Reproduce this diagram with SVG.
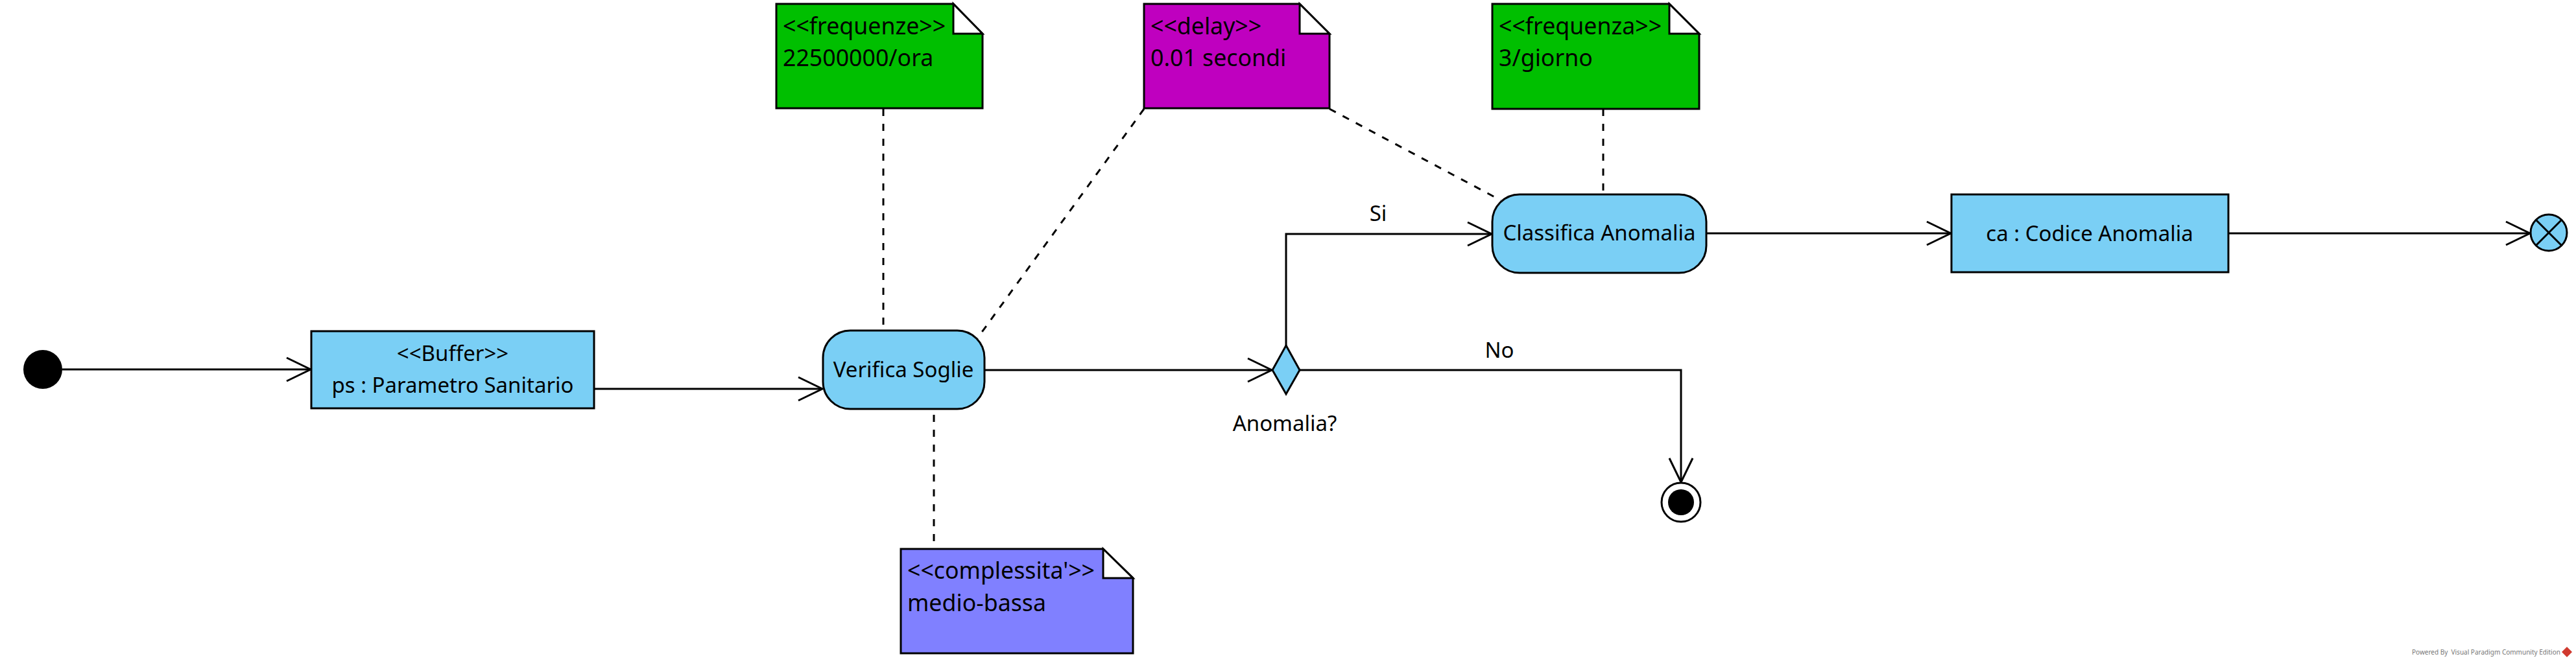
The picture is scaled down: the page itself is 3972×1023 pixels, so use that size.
<svg xmlns="http://www.w3.org/2000/svg" width="3972" height="1023" viewBox="0 0 3972 1023">
<style>
.nodebox{fill:#7ACFF5;stroke:#000;stroke-width:3}
.t{font-family:"Noto Sans","Open Sans","DejaVu Sans",sans-serif;font-size:33px;fill:#000}
.tc{text-anchor:middle}
.nt{font-family:"Noto Sans","Open Sans","DejaVu Sans",sans-serif;font-size:35.7px;fill:#000}
.edge{fill:none;stroke:#000;stroke-width:3}
.dash{fill:none;stroke:#000;stroke-width:3;stroke-dasharray:11 12}
.note{stroke:#000;stroke-width:3;stroke-linejoin:miter}
.fold{fill:#fff;stroke:#000;stroke-width:3}
.wm{font-family:"Noto Sans","Open Sans",sans-serif;font-size:10px;fill:#777;white-space:pre}
</style>
<defs>
<marker id="arr" markerUnits="userSpaceOnUse" viewBox="-40 -22 44 44" refX="0" refY="0" markerWidth="44" markerHeight="44" orient="auto">
<path d="M-37,-18 L0,0 L-37,18" fill="none" stroke="#000" stroke-width="3"/>
</marker>
</defs>
<rect width="3972" height="1023" fill="#fff"/>

<g id="connectors">
<line class="edge" x1="96" y1="570" x2="479" y2="570" marker-end="url(#arr)"/>
<line class="edge" x1="916" y1="600" x2="1268" y2="600" marker-end="url(#arr)"/>
<line class="edge" x1="1518" y1="571" x2="1961" y2="571" marker-end="url(#arr)"/>
<polyline class="edge" points="1983,533 1983,361 2300,361" marker-end="url(#arr)"/>
<polyline class="edge" points="2004,571 2592,571 2592,744" marker-end="url(#arr)"/>
<line class="edge" x1="2631" y1="360" x2="3008" y2="360" marker-end="url(#arr)"/>
<line class="edge" x1="3436" y1="360" x2="3901" y2="360" marker-end="url(#arr)"/>
<line class="dash" x1="1362" y1="168" x2="1362" y2="508"/>
<line class="dash" x1="1764" y1="168" x2="1507" y2="522"/>
<line class="dash" x1="2050" y1="168" x2="2314" y2="309"/>
<line class="dash" x1="2472" y1="168" x2="2472" y2="300"/>
<line class="dash" x1="1440" y1="640" x2="1440" y2="846"/>
<text class="t tc" x="2125" y="341">Si</text>
<text class="t tc" x="2312" y="552">No</text>
</g>

<g id="start">
<circle cx="66" cy="570" r="30" fill="#000"/>
</g>

<g id="buffer">
<rect class="nodebox" x="480" y="511" width="436" height="119"/>
<text class="t tc" x="698" y="557">&lt;&lt;Buffer&gt;&gt;</text>
<text class="t tc" x="698" y="606">ps : Parametro Sanitario</text>
</g>

<g id="verifica">
<rect class="nodebox" x="1269" y="510" width="249" height="121" rx="42" ry="42"/>
<text class="t tc" x="1393" y="582">Verifica Soglie</text>
</g>

<g id="decision">
<polygon class="nodebox" points="1983,533 2004,571 1983,608 1962,571"/>
<text class="t tc" x="1981" y="665">Anomalia?</text>
</g>

<g id="final">
<circle cx="2592" cy="775" r="30" fill="#fff" stroke="#000" stroke-width="3"/>
<circle cx="2592" cy="775" r="20" fill="#000"/>
</g>

<g id="classifica">
<rect class="nodebox" x="2301" y="300" width="330" height="121" rx="42" ry="42"/>
<text class="t tc" x="2466" y="371">Classifica Anomalia</text>
</g>

<g id="codice">
<rect class="nodebox" x="3009" y="300" width="427" height="120"/>
<text class="t tc" x="3222" y="372">ca : Codice Anomalia</text>
</g>

<g id="flowfinal">
<circle class="nodebox" cx="3930" cy="359" r="28"/>
<line x1="3910" y1="339" x2="3950" y2="379" stroke="#000" stroke-width="3"/>
<line x1="3950" y1="339" x2="3910" y2="379" stroke="#000" stroke-width="3"/>
</g>

<g id="note-frequenze">
<polygon class="note" fill="#00BF00" points="1197,6 1470,6 1515,52 1515,167 1197,167"/>
<polygon class="fold" points="1470,6 1470,52 1515,52"/>
<text class="nt" x="1207" y="53">&lt;&lt;frequenze&gt;&gt;</text>
<text class="nt" x="1207" y="102">22500000/ora</text>
</g>

<g id="note-delay">
<polygon class="note" fill="#BF00BF" points="1764,6 2004,6 2050,52 2050,167 1764,167"/>
<polygon class="fold" points="2004,6 2004,52 2050,52"/>
<text class="nt" x="1774" y="53">&lt;&lt;delay&gt;&gt;</text>
<text class="nt" x="1774" y="102">0.01 secondi</text>
</g>

<g id="note-frequenza">
<polygon class="note" fill="#00BF00" points="2301,6 2574,6 2620,52 2620,168 2301,168"/>
<polygon class="fold" points="2574,6 2574,52 2620,52"/>
<text class="nt" x="2311" y="53">&lt;&lt;frequenza&gt;&gt;</text>
<text class="nt" x="2311" y="102">3/giorno</text>
</g>

<g id="note-complessita">
<polygon class="note" fill="#8080FF" points="1389,847 1701,847 1747,892 1747,1008 1389,1008"/>
<polygon class="fold" points="1701,847 1701,892 1747,892"/>
<text class="nt" x="1399" y="893">&lt;&lt;complessita'&gt;&gt;</text>
<text class="nt" x="1399" y="943">medio-bassa</text>
</g>

<g id="watermark">
<text class="wm" x="3719" y="1010">Powered By  Visual Paradigm Community Edition</text>
<polygon points="3958,998 3966,1006 3958,1014 3950,1006" fill="#D03A2F"/>
</g>
</svg>
